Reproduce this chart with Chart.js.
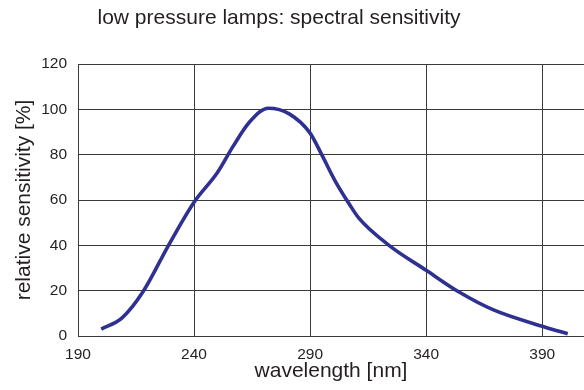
<!DOCTYPE html>
<html>
<head>
<meta charset="utf-8">
<script src="https://cdn.jsdelivr.net/npm/chart.js@4/dist/chart.umd.min.js"></script>
<style>
  html, body { margin: 0; padding: 0; background: #fff; }
  #wrap { width: 584px; height: 390px; position: relative; }
</style>
</head>
<body>
<div id="wrap"><canvas id="c" width="584" height="390"></canvas></div>
<script>
// Spectral sensitivity of low pressure lamps
const wavelengths = [200, 209, 218, 229, 240, 250, 257, 264, 272, 281, 290, 295, 301, 307, 311, 324, 340, 354, 369, 391, 401];
const sensitivity = [3, 8, 19.5, 40, 59, 72, 84, 94.5, 100.5, 98, 89.5, 80, 68, 58, 52, 40, 29, 19.5, 11.5, 4, 1];

const xTicks = [190, 240, 290, 340, 390];
const yTicks = [0, 20, 40, 60, 80, 100, 120];

const titleText = 'low pressure lamps: spectral sensitivity';
const xTitle = 'wavelength [nm]';
const yTitle = 'relative sensitivity [%]';

const FONT = '"Liberation Sans", Arial, Helvetica, sans-serif';
const TEXT = '#231f20';
const GRID = '#3a3a3a';

const titlePlugin = {
  id: 'topTitle',
  afterDraw(chart) {
    const ctx = chart.ctx;
    ctx.save();
    ctx.font = '21px ' + FONT;
    ctx.fillStyle = TEXT;
    ctx.textAlign = 'center';
    ctx.textBaseline = 'alphabetic';
    ctx.fillText(titleText, 279, 24);
    ctx.restore();
  }
};

new Chart(document.getElementById('c'), {
  type: 'line',
  data: {
    datasets: [{
      data: wavelengths.map((w, i) => ({ x: w, y: sensitivity[i] })),
      borderColor: '#2e3192',
      borderWidth: 3.6,
      pointRadius: 0,
      fill: false,
      cubicInterpolationMode: 'monotone',
      borderCapStyle: 'butt'
    }]
  },
  options: {
    responsive: false,
    animation: false,
    devicePixelRatio: 1,
    layout: { padding: { top: 64, right: 0, bottom: 0, left: 0 } },
    plugins: { legend: { display: false }, tooltip: { enabled: false }, title: { display: false } },
    scales: {
      x: {
        type: 'linear',
        min: 190,
        max: 408,
        afterBuildTicks(scale) { scale.ticks = xTicks.map(v => ({ value: v })); },
        afterFit(scale) { scale.height = 54; },
        grid: { color: GRID, lineWidth: 1, drawTicks: false },
        border: { color: GRID, width: 1 },
        ticks: { color: TEXT, font: { family: FONT, size: 15.5 }, padding: 9, maxRotation: 0, autoSkip: false },
        title: { display: true, text: xTitle, color: TEXT, font: { family: FONT, size: 21 }, padding: { top: 0, bottom: 6 } }
      },
      y: {
        min: 0,
        max: 120,
        afterBuildTicks(scale) { scale.ticks = yTicks.map(v => ({ value: v })); },
        afterFit(scale) { scale.width = 78; },
        grid: { color: GRID, lineWidth: 1, drawTicks: false },
        border: { color: GRID, width: 1 },
        ticks: { color: TEXT, font: { family: FONT, size: 15.5 }, padding: 11, autoSkip: false },
        title: { display: true, text: yTitle, color: TEXT, font: { family: FONT, size: 21 }, padding: { top: 12, bottom: 0 } }
      }
    }
  },
  plugins: [titlePlugin]
});
</script>
</body>
</html>
